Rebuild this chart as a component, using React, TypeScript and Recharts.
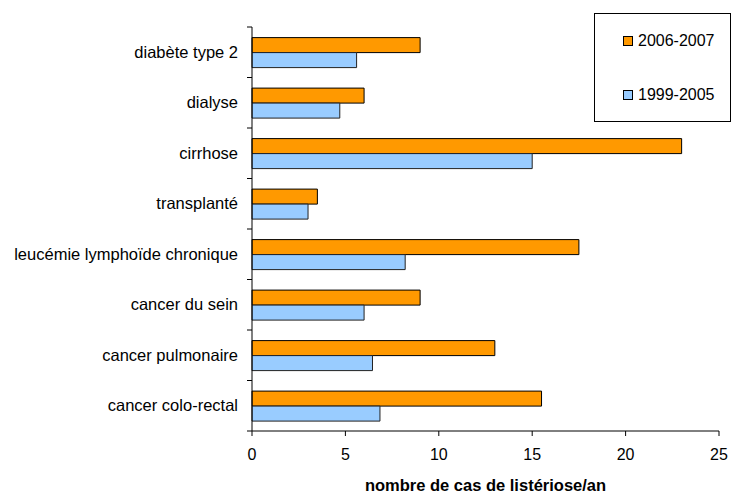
import { Bar, BarChart, XAxis, YAxis } from "recharts";

const categories = [
  "diabète type 2",
  "dialyse",
  "cirrhose",
  "transplanté",
  "leucémie lymphoïde chronique",
  "cancer du sein",
  "cancer pulmonaire",
  "cancer colo-rectal",
];
const recent = [9, 6, 23, 3.5, 17.5, 9, 13, 15.5];
const older = [5.6, 4.7, 15, 3, 8.2, 6, 6.45, 6.85];
const xTicks = [0, 5, 10, 15, 20, 25];
const seriesLabels = ["2006-2007", "1999-2005"];

const ORANGE = "#FF9900";
const BLUE = "#99CCFF";
const FONT = "'Liberation Sans', Arial, sans-serif";

const data = categories.map((name, i) => ({ name, recent: recent[i], older: older[i] }));

function CategoryTick(props: any) {
  const { x, y, payload, index, visibleTicksCount } = props;
  const half = payload?.offset || 25.25;
  const lineX = x + 9;
  return (
    <g>
      <text x={x} y={y} dy={5.5} textAnchor="end" fontSize={16.5} fill="#000" fontFamily={FONT}>
        {payload.value}
      </text>
      <line x1={lineX} x2={lineX + 5} y1={y - half} y2={y - half} stroke="#000" />
      {index === visibleTicksCount - 1 && (
        <line x1={lineX} x2={lineX + 5} y1={y + half} y2={y + half} stroke="#000" />
      )}
    </g>
  );
}

function LegendBox() {
  const colors = [ORANGE, BLUE];
  return (
    <div
      style={{
        position: "absolute",
        left: 594,
        top: 13,
        width: 137,
        height: 109,
        border: "1px solid #000",
        boxSizing: "border-box",
        background: "#fff",
        fontFamily: FONT,
        fontSize: 16,
      }}
    >
      {seriesLabels.map((label, i) => (
        <div
          key={label}
          style={{ position: "absolute", left: 28, top: 17 + i * 54, height: 20, display: "flex", alignItems: "center" }}
        >
          <span
            style={{
              display: "inline-block",
              width: 8,
              height: 8,
              background: colors[i],
              border: "1px solid #000",
              marginRight: 5,
            }}
          />
          <span>{label}</span>
        </div>
      ))}
    </div>
  );
}

export default function App() {
  return (
    <div style={{ position: "relative", width: 731, height: 493, background: "#fff" }}>
      <style>{"body{margin:0}"}</style>
      <BarChart
        width={731}
        height={493}
        data={data}
        layout="vertical"
        margin={{ top: 27, right: 12, bottom: 32, left: 0 }}
        barCategoryGap="21%"
        barGap={0}
      >
        <XAxis
          type="number"
          domain={[0, 25]}
          ticks={xTicks}
          interval={0}
          height={30}
          tickSize={5}
          tickMargin={13}
          axisLine={{ stroke: "#000" }}
          tickLine={{ stroke: "#000" }}
          tick={{ fontSize: 16, fill: "#000", fontFamily: FONT }}
          label={{
            value: "nombre de cas de listériose/an",
            position: "bottom",
            offset: 18,
            fontSize: 16.5,
            fontWeight: "bold",
            fill: "#000",
            fontFamily: FONT,
          }}
        />
        <YAxis
          type="category"
          dataKey="name"
          width={252}
          interval={0}
          tickSize={5}
          tickMargin={9}
          tickLine={false}
          axisLine={{ stroke: "#000" }}
          tick={<CategoryTick />}
        />
        <Bar dataKey="recent" name={seriesLabels[0]} fill={ORANGE} stroke="#000" strokeWidth={1} isAnimationActive={false} />
        <Bar dataKey="older" name={seriesLabels[1]} fill={BLUE} stroke="#222" strokeWidth={1} isAnimationActive={false} />
      </BarChart>
      <LegendBox />
    </div>
  );
}
